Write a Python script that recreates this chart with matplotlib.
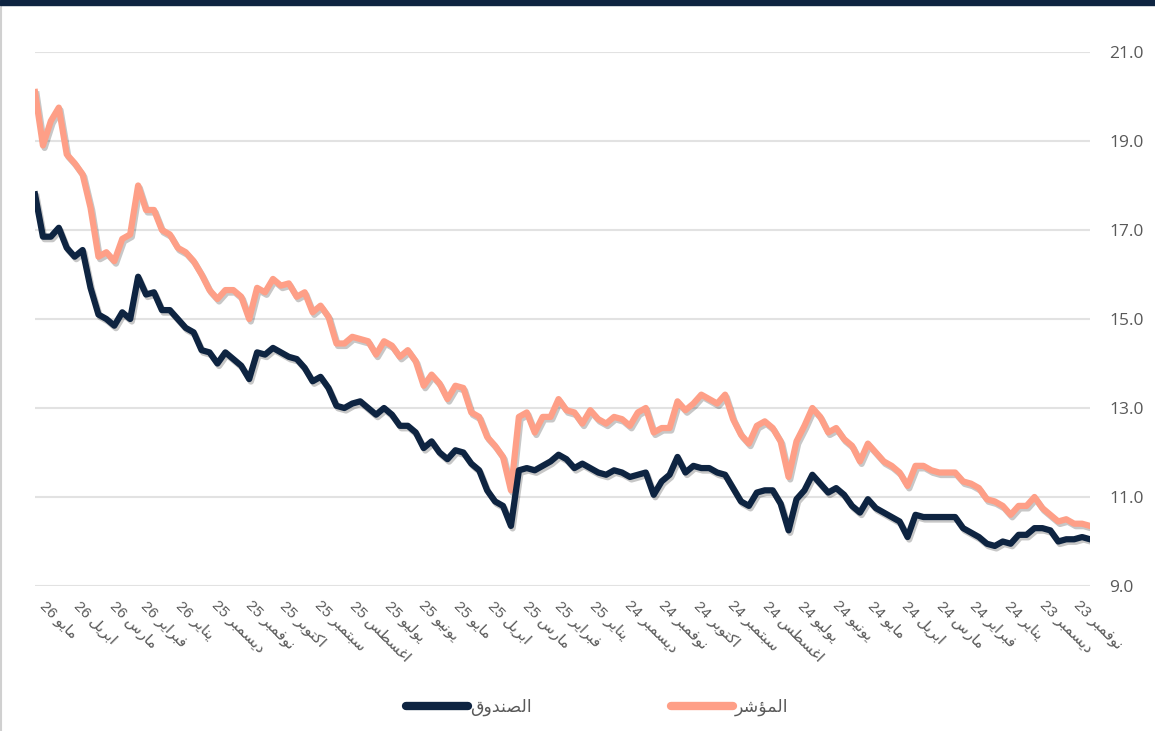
import matplotlib
matplotlib.use("Agg")
import matplotlib.pyplot as plt
import matplotlib.patheffects as pe
from matplotlib.lines import Line2D
from matplotlib.patches import Rectangle
import pandas as pd

plt.rcParams['font.family'] = ['Liberation Sans', 'DejaVu Sans']

# weekly values, newest first (left of the chart = latest)
last_date = '2026-05-12'

index_vals = [
    20.1, 18.9, 19.45, 19.75, 18.7, 18.5, 18.25, 17.5, 16.4, 16.5,
    16.3, 16.8, 16.9, 18.0, 17.45, 17.45, 17.0, 16.9, 16.6, 16.5,
    16.3, 16.0, 15.65, 15.45, 15.65, 15.65, 15.5, 15.0, 15.7, 15.6,
    15.9, 15.75, 15.8, 15.5, 15.6, 15.15, 15.3, 15.05, 14.45, 14.45,
    14.6, 14.55, 14.5, 14.2, 14.5, 14.4, 14.15, 14.3, 14.05, 13.5,
    13.75, 13.55, 13.2, 13.5, 13.45, 12.9, 12.8, 12.35, 12.15, 11.9,
    11.15, 12.8, 12.9, 12.45, 12.8, 12.8, 13.2, 12.95, 12.9, 12.65,
    12.95, 12.75, 12.65, 12.8, 12.75, 12.6, 12.9, 13.0, 12.45, 12.55,
    12.55, 13.15, 12.95, 13.1, 13.3, 13.2, 13.1, 13.3, 12.75, 12.4,
    12.2, 12.6, 12.7, 12.55, 12.25, 11.45, 12.25, 12.6, 13.0, 12.8,
    12.45, 12.55, 12.3, 12.15, 11.8, 12.2, 12.0, 11.8, 11.7, 11.55,
    11.25, 11.7, 11.7, 11.6, 11.55, 11.55, 11.55, 11.35, 11.3, 11.2,
    10.95, 10.9, 10.8, 10.6, 10.8, 10.8, 11.0, 10.75, 10.6, 10.45,
    10.5, 10.4, 10.4, 10.35,
]

fund_vals = [
    17.8, 16.85, 16.85, 17.05, 16.6, 16.4, 16.55, 15.7, 15.1, 15.0,
    14.85, 15.15, 15.0, 15.95, 15.55, 15.6, 15.2, 15.2, 15.0, 14.8,
    14.7, 14.3, 14.25, 14.0, 14.25, 14.1, 13.95, 13.65, 14.25, 14.2,
    14.35, 14.25, 14.15, 14.1, 13.9, 13.6, 13.7, 13.45, 13.05, 13.0,
    13.1, 13.15, 13.0, 12.85, 13.0, 12.85, 12.6, 12.6, 12.45, 12.1,
    12.25, 12.0, 11.85, 12.05, 12.0, 11.75, 11.6, 11.15, 10.9, 10.8,
    10.35, 11.6, 11.65, 11.6, 11.7, 11.8, 11.95, 11.85, 11.65, 11.75,
    11.65, 11.55, 11.5, 11.6, 11.55, 11.45, 11.5, 11.55, 11.05, 11.35,
    11.5, 11.9, 11.55, 11.7, 11.65, 11.65, 11.55, 11.5, 11.2, 10.9,
    10.8, 11.1, 11.15, 11.15, 10.85, 10.25, 10.95, 11.15, 11.5, 11.3,
    11.1, 11.2, 11.05, 10.8, 10.65, 10.95, 10.75, 10.65, 10.55, 10.45,
    10.1, 10.6, 10.55, 10.55, 10.55, 10.55, 10.55, 10.3, 10.2, 10.1,
    9.95, 9.9, 10.0, 9.95, 10.15, 10.15, 10.3, 10.3, 10.25, 10.0,
    10.05, 10.05, 10.1, 10.05,
]

months_ar = ['يناير', 'فبراير', 'مارس', 'ابريل', 'مايو', 'يونيو',
             'يوليو', 'اغسطس', 'سبتمبر', 'اكتوبر', 'نوفمبر', 'ديسمبر']
label_fund = 'الصندوق'
label_index = 'المؤشر'

NAVY = '#0e2441'
SALMON = '#fe9f87'
GREY_TXT = '#595959'

# minimal arabic shaping (matplotlib has no complex text layout)
FORMS = {
    'ا': ('\uFE8D', '\uFE8E', None, None),
    'أ': ('\uFE83', '\uFE84', None, None),
    'ب': ('\uFE8F', '\uFE90', '\uFE91', '\uFE92'),
    'ت': ('\uFE95', '\uFE96', '\uFE97', '\uFE98'),
    'د': ('\uFEA9', '\uFEAA', None, None),
    'ر': ('\uFEAD', '\uFEAE', None, None),
    'س': ('\uFEB1', '\uFEB2', '\uFEB3', '\uFEB4'),
    'ش': ('\uFEB5', '\uFEB6', '\uFEB7', '\uFEB8'),
    'ص': ('\uFEB9', '\uFEBA', '\uFEBB', '\uFEBC'),
    'ط': ('\uFEC1', '\uFEC2', '\uFEC3', '\uFEC4'),
    'غ': ('\uFECD', '\uFECE', '\uFECF', '\uFED0'),
    'ف': ('\uFED1', '\uFED2', '\uFED3', '\uFED4'),
    'ق': ('\uFED5', '\uFED6', '\uFED7', '\uFED8'),
    'ك': ('\uFED9', '\uFEDA', '\uFEDB', '\uFEDC'),
    'ل': ('\uFEDD', '\uFEDE', '\uFEDF', '\uFEE0'),
    'م': ('\uFEE1', '\uFEE2', '\uFEE3', '\uFEE4'),
    'ن': ('\uFEE5', '\uFEE6', '\uFEE7', '\uFEE8'),
    'و': ('\uFEED', '\uFEEE', None, None),
    'ؤ': ('\uFE85', '\uFE86', None, None),
    'ي': ('\uFEF1', '\uFEF2', '\uFEF3', '\uFEF4'),
}


def shape_ar(word):
    out = []
    for i, c in enumerate(word):
        if c not in FORMS:
            out.append(c)
            continue
        iso, fin, ini, med = FORMS[c]
        prev = word[i - 1] if i > 0 else None
        nxt = word[i + 1] if i + 1 < len(word) else None
        jp = prev in FORMS and FORMS[prev][2] is not None
        jn = ini is not None and nxt in FORMS
        if jp and jn:
            out.append(med)
        elif jp:
            out.append(fin)
        elif jn:
            out.append(ini)
        else:
            out.append(iso)
    return ''.join(reversed(out))


dates = pd.date_range(end=last_date, periods=len(fund_vals), freq='7D')[::-1]
ticks = pd.date_range('2023-11-01', '2026-05-01', freq='MS')
tick_labels = [f"{d.year % 100} " + shape_ar(months_ar[d.month - 1]) for d in ticks]

fig = plt.figure(figsize=(11.55, 7.31), dpi=100)
ax = fig.add_axes([35 / 1155, 1 - 586 / 731, 1055 / 1155, 534 / 731])

shadow = [pe.SimpleLineShadow(offset=(1.2, -1.8), shadow_color='black', alpha=0.22), pe.Normal()]
ax.plot(dates, index_vals, color=SALMON, lw=4.5, solid_joinstyle='round', path_effects=shadow, zorder=3)
ax.plot(dates, fund_vals, color=NAVY, lw=4.5, solid_joinstyle='round', path_effects=shadow, zorder=4)

ax.set_xlim(dates[0], dates[-1])
ax.set_ylim(9, 21)
ax.set_yticks([9, 11, 13, 15, 17, 19, 21])
ax.set_yticklabels([f"{v:.1f}" for v in [9, 11, 13, 15, 17, 19, 21]])
ax.yaxis.tick_right()
ax.tick_params(axis='y', length=0, pad=14, labelcolor=GREY_TXT, labelsize=12.5)
for t in ax.get_yticklabels():
    t.set_family(['Open Sans', 'DejaVu Sans'])

ax.set_xticks(ticks)
ax.set_xticklabels(tick_labels, rotation=-45, ha='left', va='top', rotation_mode='anchor')
ax.tick_params(axis='x', length=0, pad=9, labelcolor=GREY_TXT, labelsize=11)

ax.grid(axis='y', color='#e2e2e2', lw=1.5)
ax.set_axisbelow(True)
for s in ax.spines.values():
    s.set_visible(False)

handles = [Line2D([], [], color=NAVY, lw=6, solid_capstyle='round'),
           Line2D([], [], color=SALMON, lw=6, solid_capstyle='round')]
fig.legend(handles, [shape_ar(label_fund), shape_ar(label_index)], loc='center',
           bbox_to_anchor=(0.517, 1 - 707 / 731), ncol=2, frameon=False,
           handlelength=3.6, handletextpad=0.1, columnspacing=8.0,
           prop={'family': 'DejaVu Sans', 'size': 12.5}, labelcolor=GREY_TXT)

# frame decorations: top navy band and thin left border
fig.patches.append(Rectangle((0, 1 - 5 / 731), 1, 5 / 731, transform=fig.transFigure,
                             color=NAVY, zorder=10))
fig.add_artist(Line2D([1 / 1155, 1 / 1155], [0, 1], transform=fig.transFigure,
                      color='#d0d0d0', lw=1.5))

fig.savefig('out.png', dpi=100)
